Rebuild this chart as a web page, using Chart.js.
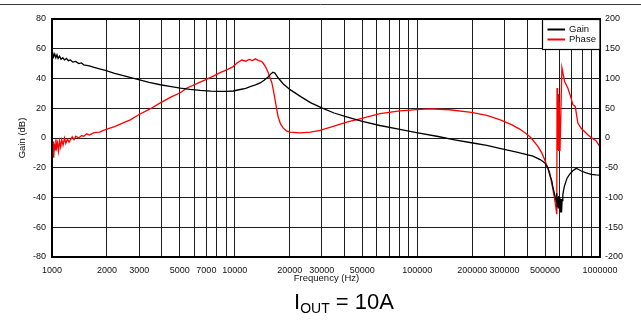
<!DOCTYPE html>
<html>
<head>
<meta charset="utf-8">
<script src="https://cdn.jsdelivr.net/npm/chart.js@4/dist/chart.umd.min.js"></script>
<style>
  html, body { margin: 0; padding: 0; background: #fff; overflow: hidden; }
  canvas { display: block; }
</style>
</head>
<body>
<canvas id="bode" width="641" height="320"></canvas>
<script>
const FONT = '"Liberation Sans", Arial, Helvetica, sans-serif';

// Loop gain magnitude (dB) versus frequency (Hz)
const gainFreq = [1000, 1010, 1020, 1035, 1050, 1065, 1080, 1100, 1120, 1145, 1170, 1200, 1230, 1262, 1300, 1350, 1400, 1450, 1492,
  1600, 1700, 1820, 1960, 2200, 2400, 2700, 2981, 3400, 3916, 4500, 5038, 5700, 6477, 7400, 8332, 9100, 9813, 10716, 11500, 12153,
  13000, 13784, 14500, 15248, 15700, 16175, 16600, 17288, 18408, 20109, 23000, 26000, 29960, 35000, 41040, 50000, 62400, 80240,
  99000, 130000, 160000, 197800, 240000, 282300, 350000, 429300, 470000, 497400, 518500, 529700, 545000, 552200, 562000, 569200,
  576400, 580000, 583000, 586000, 590000, 594000, 598000, 603000, 608000, 612000, 616000, 620000, 626000, 632000, 639800, 660000,
  681300, 710000, 741200, 760000, 789400, 840000, 895500, 950000, 1000000];
const gainDb = [55, 57, 54.5, 56.5, 54, 56, 53.5, 55, 53, 54, 52.5, 53.5, 52, 52.5, 51, 51.5, 50, 50.5, 49.2,
  48.5, 47.5, 46.5, 45.4, 43.5, 42.2, 40.6, 39.2, 37.4, 35.8, 34.6, 33.6, 32.7, 32, 31.5, 31.3, 31.3, 31.6, 32.6, 33.4, 34.5,
  35.7, 37, 38.8, 41, 42.8, 44.2, 43.6, 40.5, 36.5, 32.5, 27.8, 23.8, 20.2, 16.8, 14.2, 11.2, 8.4, 5.8,
  3.6, 1.0, -1.2, -3.2, -5.0, -7, -9.5, -12.2, -14.5, -16.6, -20, -24.4, -29, -33, -37, -39.8,
  -43, -37, -46, -40, -47, -39, -45, -40, -50, -41, -50, -42, -38, -35, -32, -27,
  -24.4, -22, -20.4, -21, -22.2, -23.5, -24.4, -24.8, -25];

// Loop phase (degrees) versus frequency (Hz)
const phaseFreq = [1000, 1008, 1015, 1022, 1030, 1040, 1050, 1060, 1072, 1085, 1100, 1115, 1130, 1150, 1170, 1190, 1215, 1240,
  1262, 1290, 1320, 1350, 1400, 1450, 1492, 1550, 1600, 1700, 1820, 1960, 2200, 2400, 2700, 2981, 3400, 3916, 4500, 5038, 5482,
  6477, 7400, 8332, 9100, 9813, 10300, 10946, 11500, 12000, 12500, 13000, 13500, 14000, 14310, 14800, 15248, 15974, 16300, 16646,
  17000, 17288, 17800, 18408, 19200, 20109, 22800, 26000, 29330, 35000, 41040, 48520, 62400, 80240, 99000, 117000, 150000, 197800,
  240000, 282300, 330000, 363200, 395100, 420000, 457100, 480000, 497400, 508200, 529700, 552200, 568000, 576400, 580000, 582000,
  586000, 590000, 594000, 598000, 604000, 610000, 618500, 640000, 666800, 690000, 710200, 732000, 756300, 790000, 822900, 860000,
  895500, 953300, 1000000];
const phaseDeg = [-12, -28, -6, -33, -10, -20, -2, -16, -8, -22, -5, -15, -3, -12, 0, -9, -2, -7,
  -3, 2, -3, 3, 0, 4, 3, 7, 5, 9, 10, 14, 19, 24, 31, 39, 48, 59, 69, 76, 84,
  94, 102, 110, 115, 120, 126, 131, 129, 132, 130, 133, 130, 129, 126, 119, 110, 93, 80, 64,
  48, 36, 24, 17, 12, 10, 8.7, 10, 13, 20, 26.5, 32, 41, 45.5, 47.7, 49, 47.5, 43,
  38, 31, 22, 15, 7, 0, -14, -25, -36, -44, -58, -86, -108, -122, -128, 84,
  -20, 74, -22, 60, -22, -22, 118, 95, 84, 70, 56, 53, 25, 16, 11, 5,
  1, -5, -15];

// Axis tick labels
const freqTickLabels = [1000, 2000, 3000, 5000, 7000, 10000, 20000, 30000, 50000, 100000, 200000, 300000, 500000, 1000000];
const gainRange = [-80, 80, 20];
const phaseRange = [-200, 200, 50];
const seriesNames = ['Gain', 'Phase'];
const seriesColors = ['#000000', '#ff0000'];

// Vertical grid lines at every 1..9 multiple of each decade
const gridFreqs = [];
for (let d = 1000; d < 1000000; d *= 10) {
  for (let m = 1; m <= 9; m++) gridFreqs.push(m * d);
}
gridFreqs.push(1000000);

const toPoints = (xs, ys) => xs.map((x, i) => ({ x: x, y: ys[i] }));

const decorations = {
  id: 'decorations',
  afterDraw(chart) {
    const { ctx, chartArea: a } = chart;
    ctx.save();

    // page rule along the top
    ctx.strokeStyle = '#3a3a3a';
    ctx.lineWidth = 1;
    ctx.beginPath();
    ctx.moveTo(0, 4.5);
    ctx.lineTo(641, 4.5);
    ctx.stroke();

    // plot frame
    ctx.strokeStyle = '#000';
    ctx.lineWidth = 2;
    ctx.strokeRect(a.left, a.top, a.right - a.left, a.bottom - a.top);

    // legend box in the upper right corner
    const bx = a.right - 58, by = a.top, bw = 58, bh = 30;
    ctx.fillStyle = '#fff';
    ctx.fillRect(bx, by, bw, bh);
    ctx.lineWidth = 1.2;
    ctx.strokeRect(bx + 0.5, by + 0.5, bw - 0.5, bh);
    ctx.font = '9.5px ' + FONT;
    ctx.textAlign = 'left';
    ctx.textBaseline = 'middle';
    seriesNames.forEach((name, i) => {
      const y = by + 10.5 + i * 10;
      ctx.strokeStyle = seriesColors[i];
      ctx.lineWidth = 2;
      ctx.beginPath();
      ctx.moveTo(bx + 5.5, y);
      ctx.lineTo(bx + 23, y);
      ctx.stroke();
      ctx.fillStyle = '#111';
      ctx.fillText(name, bx + 27, y);
    });

    // axis titles
    ctx.fillStyle = '#111';
    ctx.font = '9.5px ' + FONT;
    ctx.textAlign = 'center';
    ctx.textBaseline = 'middle';
    ctx.fillText('Frequency (Hz)', (a.left + a.right) / 2 + 0.5, 278.5);
    ctx.save();
    ctx.translate(22, (a.top + a.bottom) / 2);
    ctx.rotate(-Math.PI / 2);
    ctx.fillText('Gain (dB)', 0, 0);
    ctx.restore();

    // caption with subscript: I_OUT = 10A
    const big = '22px ' + FONT, small = '14px ' + FONT;
    ctx.textAlign = 'left';
    ctx.textBaseline = 'alphabetic';
    ctx.fillStyle = '#000';
    ctx.font = big;
    const w1 = ctx.measureText('I').width;
    const w3 = ctx.measureText(' = 10A').width;
    ctx.font = small;
    const w2 = ctx.measureText('OUT').width;
    let x = 344 - (w1 + w2 + w3) / 2;
    const base = 309;
    ctx.font = big;
    ctx.fillText('I', x, base);
    x += w1;
    ctx.font = small;
    ctx.fillText('OUT', x, base + 4);
    x += w2;
    ctx.font = big;
    ctx.fillText(' = 10A', x, base);

    ctx.restore();
  }
};

const tickFont = { family: FONT, size: 9 };

new Chart(document.getElementById('bode'), {
  type: 'line',
  data: {
    datasets: [
      {
        label: seriesNames[0],
        data: toPoints(gainFreq, gainDb),
        borderColor: seriesColors[0],
        borderWidth: 1.3,
        pointRadius: 0,
        tension: 0,
        yAxisID: 'y'
      },
      {
        label: seriesNames[1],
        data: toPoints(phaseFreq, phaseDeg),
        borderColor: seriesColors[1],
        borderWidth: 1.3,
        pointRadius: 0,
        tension: 0,
        yAxisID: 'y2'
      }
    ]
  },
  options: {
    responsive: false,
    animation: false,
    devicePixelRatio: 1,
    layout: { padding: { top: 19, left: 0, right: 0, bottom: 0 } },
    plugins: { legend: { display: false }, tooltip: { enabled: false } },
    scales: {
      x: {
        type: 'logarithmic',
        min: 1000,
        max: 1000000,
        afterBuildTicks(scale) { scale.ticks = gridFreqs.map(v => ({ value: v })); },
        afterFit(scale) { scale.height = 63; },
        ticks: {
          autoSkip: false,
          maxRotation: 0,
          minRotation: 0,
          padding: 8,
          color: '#111',
          font: tickFont,
          callback: v => (freqTickLabels.includes(v) ? String(v) : '')
        },
        grid: { color: '#1e1e1e', lineWidth: 1, drawTicks: false },
        border: { display: false }
      },
      y: {
        position: 'left',
        min: gainRange[0],
        max: gainRange[1],
        afterFit(scale) { scale.width = 52; },
        ticks: { stepSize: gainRange[2], padding: 6, color: '#111', font: tickFont },
        grid: { color: '#1e1e1e', lineWidth: 1, drawTicks: false },
        border: { display: false }
      },
      y2: {
        position: 'right',
        min: phaseRange[0],
        max: phaseRange[1],
        afterFit(scale) { scale.width = 41; },
        ticks: { stepSize: phaseRange[2], padding: 5, color: '#111', font: tickFont },
        grid: { drawOnChartArea: false, drawTicks: false },
        border: { display: false }
      }
    }
  },
  plugins: [decorations]
});
</script>
</body>
</html>
